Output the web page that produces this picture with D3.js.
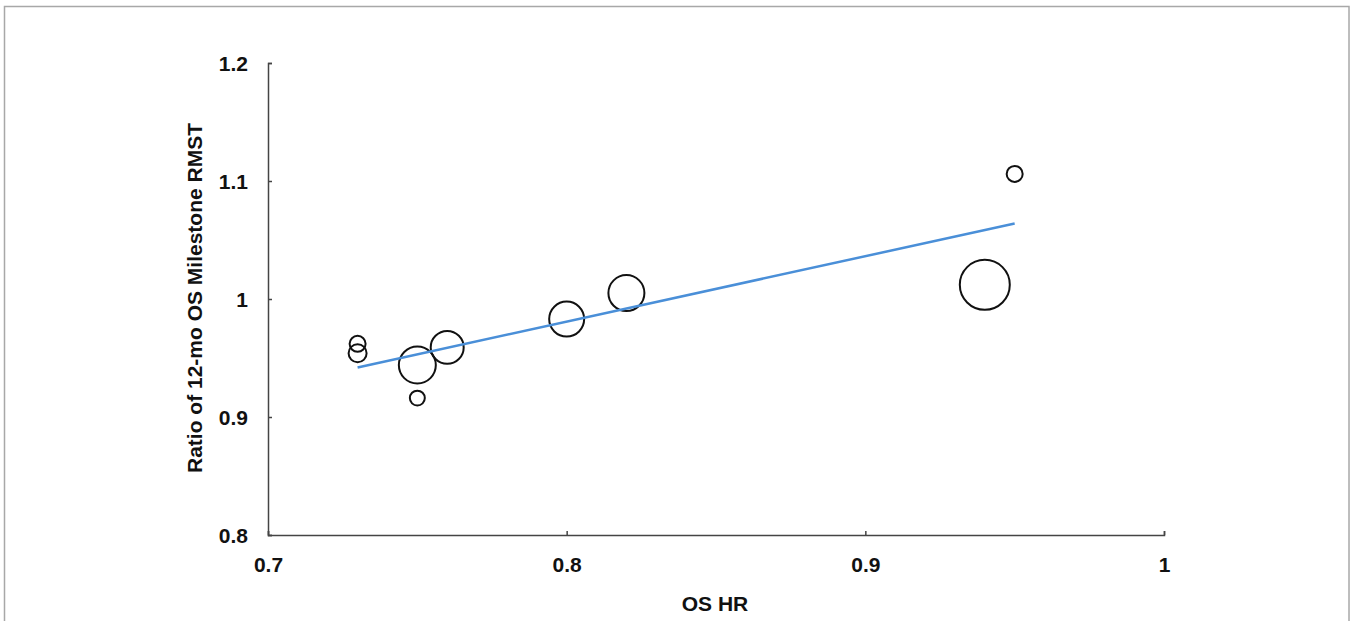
<!DOCTYPE html>
<html>
<head>
<meta charset="utf-8">
<script src="https://cdn.jsdelivr.net/npm/d3@7"></script>
<style>
  body { margin: 0; background: #fff; }
  svg { display: block; }
  .tick text { font-family: "Liberation Sans", Arial, sans-serif; font-weight: bold; font-size: 21px; fill: #111; }
  .axisLabel { font-family: "Liberation Sans", Arial, sans-serif; font-weight: bold; font-size: 21px; fill: #111; }
</style>
</head>
<body>
<div id="chart"></div>
<script>
// Bubble chart: OS HR vs ratio of 12-mo OS milestone RMST

// study points (bubble weight ~ trial size)
const osHR = [0.73, 0.73, 0.75, 0.75, 0.76, 0.80, 0.82, 0.94, 0.95];
const rmstRatio = [0.962, 0.954, 0.944, 0.916, 0.959, 0.983, 1.005, 1.012, 1.106];
const weights = [64, 81, 342, 56, 272, 306, 324, 625, 64];

// fitted regression line end points
const fitHR = [0.73, 0.95];
const fitRatio = [0.942, 1.064];

const xTicks = [0.7, 0.8, 0.9, 1];
const yTicks = [0.8, 0.9, 1, 1.1, 1.2];
const xLabelText = "OS HR";
const yLabelText = "Ratio of 12-mo OS Milestone RMST";

const W = 1350, H = 621;
const margin = { top: 63, left: 268, right: 186, bottom: 86 };
const width = W - margin.left - margin.right,
  height = H - margin.top - margin.bottom;

const svg = d3.select("#chart")
  .append("svg")
    .attr("width", W)
    .attr("height", H);

// outer frame (bottom edge runs off the picture)
svg.append("rect")
  .attr("x", 4.5)
  .attr("y", 6.5)
  .attr("width", 1344.5)
  .attr("height", H + 10)
  .attr("fill", "none")
  .attr("stroke", "#a8a8a8")
  .attr("stroke-width", 1.5);

const g = svg.append("g")
  .attr("transform", "translate(" + margin.left + "," + margin.top + ")");

const xScale = d3.scaleLinear().domain([0.7, 1]).range([0, width]);
const yScale = d3.scaleLinear().domain([0.8, 1.2]).range([height, 0]);
const rScale = d3.scaleSqrt().domain([0, 625]).range([0, 25]);

// X axis
const xAxis = g.append("g")
  .attr("transform", "translate(0," + height + ")")
  .call(d3.axisBottom(xScale).tickValues(xTicks).tickFormat(d3.format("")).tickSize(-4).tickPadding(22));

// Y axis
const yAxis = g.append("g")
  .call(d3.axisLeft(yScale).tickValues(yTicks).tickFormat(d3.format("")).tickSize(-4).tickPadding(20));

[xAxis, yAxis].forEach(ax => {
  ax.select(".domain").attr("stroke", "#444").attr("stroke-width", 1.5);
  ax.selectAll(".tick line").attr("stroke", "#444").attr("stroke-width", 1.5);
});
yAxis.selectAll(".tick text").attr("dy", "0.35em");

// axis labels
svg.append("text")
  .attr("class", "axisLabel")
  .attr("x", margin.left + width / 2 - 1)
  .attr("y", 611)
  .attr("text-anchor", "middle")
  .text(xLabelText);

svg.append("text")
  .attr("class", "axisLabel")
  .attr("transform", "translate(202,298) rotate(-90)")
  .attr("text-anchor", "middle")
  .text(yLabelText);

// bubbles
const points = osHR.map((x, i) => ({ x: x, y: rmstRatio[i], w: weights[i] }));
g.selectAll("circle.bubble")
  .data(points)
  .enter().append("circle")
    .attr("class", "bubble")
    .attr("cx", d => xScale(d.x))
    .attr("cy", d => yScale(d.y))
    .attr("r", d => rScale(d.w))
    .attr("fill", "none")
    .attr("stroke", "#111")
    .attr("stroke-width", 2);

// trend line
const line = d3.line()
  .x(d => xScale(d[0]))
  .y(d => yScale(d[1]));
g.append("path")
  .attr("d", line(fitHR.map((x, i) => [x, fitRatio[i]])))
  .attr("fill", "none")
  .attr("stroke", "#4a8fd8")
  .attr("stroke-width", 2.5);
</script>
</body>
</html>
